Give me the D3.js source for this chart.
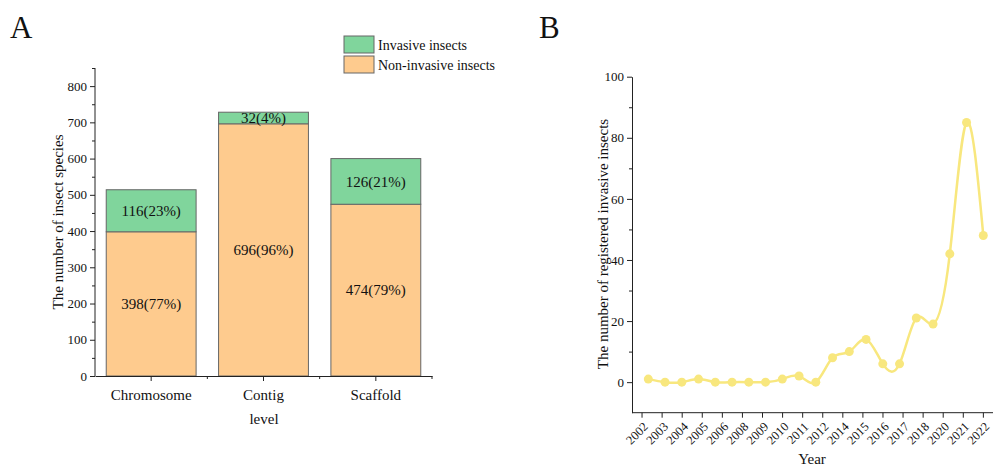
<!DOCTYPE html>
<html>
<head>
<meta charset="utf-8">
<script src="https://cdn.jsdelivr.net/npm/d3@7"></script>
<style>
  body { margin: 0; background: #fff; }
  svg text { font-family: "Liberation Serif", "Times New Roman", serif; fill: #111; }
  .axis path, .axis line { stroke: #222; }
</style>
</head>
<body>
<svg id="chart" width="993" height="468"></svg>
<script>
// panel A data
const levels = ["Chromosome", "Contig", "Scaffold"];
const invasive = [116, 32, 126];
const nonInvasive = [398, 696, 474];
const invasivePct = ["23%", "4%", "21%"];
const nonInvasivePct = ["77%", "96%", "79%"];

// panel B data
const years = d3.range(2002, 2023);
const registered = [1, 0, 0, 1, 0, 0, 0, 0, 1, 2, 0, 8, 10, 14, 6, 6, 21, 19, 42, 85, 48];
const yearLabels = ["2002","2003","2004","2005","2006","2008","2009","2010","2011",
  "2012","2014","2015","2016","2017","2018","2020","2021","2022"];

const green = "#80d59c", orange = "#fecb8e", yellow = "#f8e77e";
const serif = "Liberation Serif, Times New Roman, serif";
const svg = d3.select("#chart");

// ---------- panel A ----------
svg.append("text").attr("x", 10).attr("y", 38).attr("font-size", 31).text("A");

const xA = d3.scaleBand().domain(levels).range([95, 432]).paddingInner(0.2).paddingOuter(0.1);
const yA = d3.scaleLinear().domain([0, 850]).range([376, 68]);

const gA = svg.append("g");

// stacked bars
levels.forEach((lv, i) => {
  gA.append("rect")
    .attr("x", xA(lv)).attr("width", xA.bandwidth())
    .attr("y", yA(nonInvasive[i])).attr("height", yA(0) - yA(nonInvasive[i]))
    .attr("fill", orange).attr("stroke", "#666").attr("stroke-width", 1);
  gA.append("rect")
    .attr("x", xA(lv)).attr("width", xA.bandwidth())
    .attr("y", yA(nonInvasive[i] + invasive[i])).attr("height", yA(0) - yA(invasive[i]))
    .attr("fill", green).attr("stroke", "#666").attr("stroke-width", 1);
  const cx = xA(lv) + xA.bandwidth() / 2;
  gA.append("text").attr("x", cx).attr("y", yA(nonInvasive[i] / 2)).attr("dy", "0.35em")
    .attr("text-anchor", "middle").attr("font-size", 15)
    .text(nonInvasive[i] + "(" + nonInvasivePct[i] + ")");
  gA.append("text").attr("x", cx).attr("y", yA(nonInvasive[i] + invasive[i] / 2)).attr("dy", "0.35em")
    .attr("text-anchor", "middle").attr("font-size", 15)
    .text(invasive[i] + "(" + invasivePct[i] + ")");
});

// y axis A
const yAxisA = gA.append("g").attr("class", "axis").attr("transform", "translate(95,0)")
  .call(d3.axisLeft(yA).tickValues(d3.range(0, 801, 100)).tickSize(5).tickSizeOuter(0).tickPadding(3))
  .attr("font-family", serif).attr("font-size", 13);
yAxisA.select(".domain").attr("d", "M0," + yA(0) + "V" + yA(850));
gA.append("g").attr("class", "axis").attr("transform", "translate(95,0)")
  .call(d3.axisLeft(yA).tickValues(d3.range(50, 851, 100)).tickSize(3).tickFormat(""))
  .select(".domain").remove();

// x axis A
const xAxisA = gA.append("g").attr("class", "axis").attr("transform", "translate(0,376)")
  .call(d3.axisBottom(xA).tickSize(5).tickSizeOuter(0).tickPadding(8))
  .attr("font-family", serif).attr("font-size", 15);
xAxisA.selectAll(".minor").data([1, 2, 3]).enter().append("line")
  .attr("x1", d => 95 + d * xA.step()).attr("x2", d => 95 + d * xA.step())
  .attr("y1", 0).attr("y2", 3).attr("stroke", "#222");

gA.append("text").attr("x", 264).attr("y", 424).attr("text-anchor", "middle")
  .attr("font-size", 15).text("level");
gA.append("text").attr("transform", "translate(63,222) rotate(-90)")
  .attr("text-anchor", "middle").attr("font-size", 15).text("The number of insect species");

// legend
const legendItems = [["Invasive insects", green], ["Non-invasive insects", orange]];
legendItems.forEach((d, i) => {
  gA.append("rect").attr("x", 344).attr("y", 36 + i * 20).attr("width", 30).attr("height", 17)
    .attr("fill", d[1]).attr("stroke", "#666");
  gA.append("text").attr("x", 378).attr("y", 45 + i * 20).attr("dy", "0.35em")
    .attr("font-size", 14).text(d[0]);
});

// ---------- panel B ----------
svg.append("text").attr("x", 539).attr("y", 38).attr("font-size", 31).text("B");

const yB = d3.scaleLinear().domain([-10, 100]).range([412.7, 76.7]);
const xB = d3.scalePoint().domain(years).range([648.3, 983.3]);
const xTicksB = d3.scaleBand().domain(yearLabels).range([632, 993.4]);

const gB = svg.append("g");

gB.append("g").attr("class", "axis").attr("transform", "translate(632,0)")
  .call(d3.axisLeft(yB).tickValues(d3.range(0, 101, 20)).tickSize(5).tickSizeOuter(0).tickPadding(3))
  .attr("font-family", serif).attr("font-size", 13);
gB.append("g").attr("class", "axis").attr("transform", "translate(632,0)")
  .call(d3.axisLeft(yB).tickValues(d3.range(10, 91, 20)).tickSize(3).tickFormat(""))
  .select(".domain").remove();

const xAxisB = gB.append("g").attr("class", "axis").attr("transform", "translate(0,412.7)")
  .call(d3.axisBottom(xTicksB).tickSize(5).tickSizeOuter(0))
  .attr("font-family", serif).attr("font-size", 12.5);
xAxisB.select(".domain").attr("d", "M632,0H993");
xAxisB.selectAll("text")
  .attr("text-anchor", "end").attr("dy", "0.35em")
  .attr("transform", "translate(-2,6) rotate(-45)");

gB.append("text").attr("x", 812).attr("y", 464).attr("text-anchor", "middle")
  .attr("font-size", 15).text("Year");
gB.append("text").attr("transform", "translate(608,244) rotate(-90)")
  .attr("text-anchor", "middle").attr("font-size", 15).text("The number of registered invasive insects");

const line = d3.line().x((d, i) => xB(years[i])).y(d => yB(d)).curve(d3.curveNatural);
gB.append("path").datum(registered).attr("d", line)
  .attr("fill", "none").attr("stroke", yellow).attr("stroke-width", 2.5);
gB.selectAll("circle.pt").data(registered).enter().append("circle")
  .attr("class", "pt")
  .attr("cx", (d, i) => xB(years[i])).attr("cy", d => yB(d)).attr("r", 4.5)
  .attr("fill", yellow);
</script>
</body>
</html>
